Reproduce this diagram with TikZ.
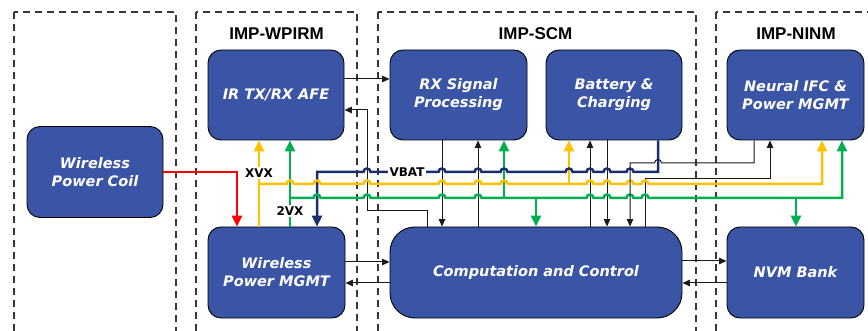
\documentclass[tikz,border=0pt]{standalone}
\usepackage{fontspec}
\usetikzlibrary{arrows.meta}
\newfontfamily\dejavu{DejaVu Sans}
\newfontfamily\libsans{Liberation Sans}
\definecolor{blkblue}{RGB}{58,85,165}
\definecolor{busnavy}{RGB}{26,46,110}
\definecolor{busyellow}{RGB}{255,192,0}
\definecolor{busgreen}{RGB}{0,176,80}
\definecolor{busred}{RGB}{255,0,0}
\definecolor{grpgray}{RGB}{55,55,55}
\definecolor{sigblack}{RGB}{25,25,25}

% horizontal run at height #1 that hops over the vertical lines at the x positions in #2
\newcommand\hopsat[2]{\foreach \hx in {#2} { -- (\hx-3.5,#1) .. controls (\hx-3.5,#1-4.6) and (\hx+3.5,#1-4.6) .. (\hx+3.5,#1) }}

\begin{document}
\begin{tikzpicture}[x=1pt,y=-1pt,
  blk/.style={draw=black, line width=0.9pt, fill=blkblue, rounded corners=13pt,
    text=white, align=center, inner sep=0pt,
    font=\dejavu\bfseries\itshape\fontsize{14.5}{18}\selectfont},
  grp/.style={draw=grpgray, line width=1.1pt, dash pattern=on 7pt off 5pt},
  ttl/.style={font=\libsans\bfseries\fontsize{17}{20}\selectfont, inner sep=0pt},
  lbl/.style={fill=white, inner sep=1.5pt, font=\dejavu\bfseries\fontsize{12}{14}\selectfont},
  sig/.style={draw=sigblack, line width=1pt},
  sigtip/.style={-{Triangle[length=7.5pt,width=6.5pt]}},
  sigtipback/.style={{Triangle[length=7.5pt,width=6.5pt]}-},
  pwr/.style={line width=2.5pt},
  pwrtip/.style={-{Triangle[length=11pt,width=10pt]}},
  pwrtipback/.style={{Triangle[length=11pt,width=10pt]}-},
]
\useasboundingbox (0,0) rectangle (868,331);
\clip (0,0) rectangle (868,331);

% module groups
\draw[grp] (14,12) rectangle (176,350);
\draw[grp] (196,12) rectangle (357,350);
\draw[grp] (378,12) rectangle (696,350);
\draw[grp] (716,12) rectangle (895,350);

\node[ttl] (twpirm) at (276.5,33.5) {IMP-WPIRM};
\node[ttl] (tscm)   at (535.5,33.5) {IMP-SCM};
\node[ttl] (tninm)  at (796,33.5)   {IMP-NINM};

% blocks
\node[blk, minimum width=136pt, minimum height=91pt] (coil) at (95,172) {Wireless\\Power Coil};
\node[blk, minimum width=136pt, minimum height=90pt] (afe)  at (276,95) {IR TX/RX AFE};
\node[blk, minimum width=137pt, minimum height=90pt] (rx)   at (458.5,95) {RX Signal\\Processing};
\node[blk, minimum width=136pt, minimum height=90pt] (bat)  at (614,95) {Battery \&\\Charging};
\node[blk, minimum width=137pt, minimum height=90pt] (nifc) at (795.5,95) {Neural IFC \&\\Power MGMT};
\node[blk, minimum width=137pt, minimum height=91pt] (wpm)  at (276.5,272.5) {Wireless\\Power MGMT};
\node[blk, minimum width=292pt, minimum height=91pt, rounded corners=25pt] (cc) at (536,272.5) {Computation and Control};
\node[blk, minimum width=137pt, minimum height=91pt] (nvm)  at (795.5,272.5) {NVM Bank};

% signal connections
\draw[sig,sigtip] (afe.east |- 0,79) -- (rx.west |- 0,79);
\draw[sig,sigtip] (cc.north -| 427,0) -- (427,211) -- (367,211) -- (367,110) -- (afe.east |- 0,110);
\draw[sig,sigtip] (rx.south -| 442,0) -- (cc.north -| 442,0);
\draw[sig,sigtip] (cc.north -| 478,0) -- (rx.south -| 478,0);
\draw[sig,sigtip] (cc.north -| 590,0) -- (bat.south -| 590,0);
\draw[sig,sigtip] (bat.south -| 607,0) -- (cc.north -| 607,0);
\draw[sig,sigtip] (cc.north -| 645,0) -- (645,179) -- (770,179) -- (nifc.south -| 770,0);
\draw[sig,sigtip] (wpm.east |- 0,262) -- (cc.west |- 0,262);
\draw[sig,sigtip] (cc.west |- 0,283) -- (wpm.east |- 0,283);
\draw[sig,sigtip] (cc.east |- 0,261) -- (nvm.west |- 0,261);
\draw[sig,sigtip] (nvm.west |- 0,283) -- (cc.east |- 0,283);

% wireless power feed
\draw[pwr,busred,pwrtip] (coil.east) -- (237,172) -- (wpm.north -| 237,0);

% local supplies of the power management block
\draw[pwr,busyellow,pwrtip] (wpm.north -| 259,0) -- (afe.south -| 259,0);
\draw[pwr,busgreen,pwrtip] (wpm.north -| 290,0) -- (afe.south -| 290,0);

% supply branches
\draw[pwr,busyellow,pwrtip] (569,184) -- (bat.south -| 569,0);
\draw[pwr,busgreen,pwrtip] (504,198) -- (rx.south -| 504,0);
\draw[pwr,busgreen,pwrtip] (536,198) -- (cc.north -| 536,0);
\draw[pwr,busgreen,pwrtip] (796,198) -- (nvm.north -| 796,0);

% supply rails
\draw[pwr,busnavy,pwrtipback] (wpm.north -| 317,0) -- (317,172)
  \hopsat{172}{367,442,478,504,569,590,607,630} -- (658,172) -- (bat.south -| 658,0);
\draw[pwr,busyellow,pwrtip] (259,184)
  \hopsat{184}{290,317,367,442,478,504,590,607,630,645} -- (822,184) -- (nifc.south -| 822,0);
\draw[pwr,busgreen,pwrtip] (290,198)
  \hopsat{198}{317,367,442,478,590,607,630,645} -- (842,198) -- (nifc.south -| 842,0);

% neural interface to controller, hopping the battery rail
\draw[sig,sigtipback] (cc.north -| 630,0) -- (630,163) \hopsat{163}{658} -- (754,163) -- (nifc.south -| 754,0);

% rail labels
\node[lbl] (xvx)  at (259,173) {XVX};
\node[lbl] (twovx) at (290,211) {2VX};
\node[lbl] (vbat) at (407,172) {VBAT};
\end{tikzpicture}
\end{document}
